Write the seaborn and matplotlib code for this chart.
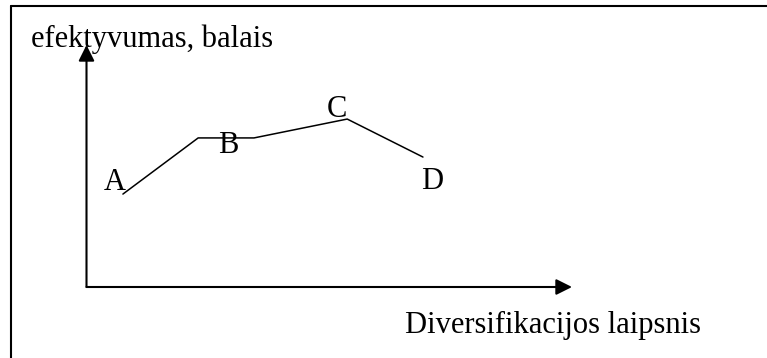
import matplotlib
matplotlib.use("Agg")
import matplotlib.pyplot as plt
from matplotlib.lines import Line2D
import seaborn as sns
import pandas as pd

# ---- data ----
x_values = [0.75, 2.30, 3.45, 5.37, 6.93]
y_values = [3.84, 6.16, 6.16, 6.94, 5.37]
point_labels = ["A", "B", "", "C", "D"]
y_axis_title = "efektyvumas, balais"
x_axis_title = "Diversifikacijos laipsnis"

df = pd.DataFrame({"x": x_values, "y": y_values, "label": point_labels})

sns.set_style("white")
plt.rcParams["font.family"] = ["Liberation Serif", "DejaVu Serif"]

W, H = 767, 358
fig = plt.figure(figsize=(W / 100, H / 100), dpi=100)
fig.patch.set_facecolor("white")

ox, oy = 86.5, 287
tipx, tipy = 572, 45
ax = fig.add_axes([ox / W, (H - oy) / H, (tipx - ox) / W, (oy - tipy) / H])
ax.set_xlim(0, 10)
ax.set_ylim(0, 10)
ax.axis("off")

sns.lineplot(data=df, x="x", y="y", sort=False, color="black", lw=1.1,
             ax=ax, estimator=None)

# label offsets in points relative to the points
offsets = {"A": (-14, 3), "B": (14.5, -11), "C": (-14.5, 1.5), "D": (-1.5, -23)}
for _, r in df.iterrows():
    if r["label"]:
        dx, dy = offsets[r["label"]]
        ax.annotate(r["label"], xy=(r["x"], r["y"]), xytext=(dx, dy),
                    textcoords="offset points", ha="left", va="baseline",
                    fontsize=22, color="black")

arrow = dict(arrowstyle="-|>,head_length=0.6,head_width=0.3", lw=1.5,
             color="black", shrinkA=0, shrinkB=0, mutation_scale=16)
ax.annotate("", xy=(0, 1), xytext=(0, 0), xycoords="axes fraction",
            textcoords="axes fraction", arrowprops=arrow)
ax.annotate("", xy=(1, 0), xytext=(0, 0), xycoords="axes fraction",
            textcoords="axes fraction", arrowprops=arrow)

# frame (left and top edges only visible)
bx, by = 11, 6
fig.add_artist(Line2D([bx / W, bx / W], [0, (H - by) / H], color="black", lw=1.5))
fig.add_artist(Line2D([bx / W, 1], [(H - by) / H, (H - by) / H], color="black", lw=1.5))

fig.text(31 / W, (H - 47) / H, y_axis_title, ha="left", va="baseline",
         fontsize=22, color="black")
fig.text(405 / W, (H - 333) / H, x_axis_title, ha="left", va="baseline",
         fontsize=22, color="black")

fig.savefig("out.png", dpi=100)
